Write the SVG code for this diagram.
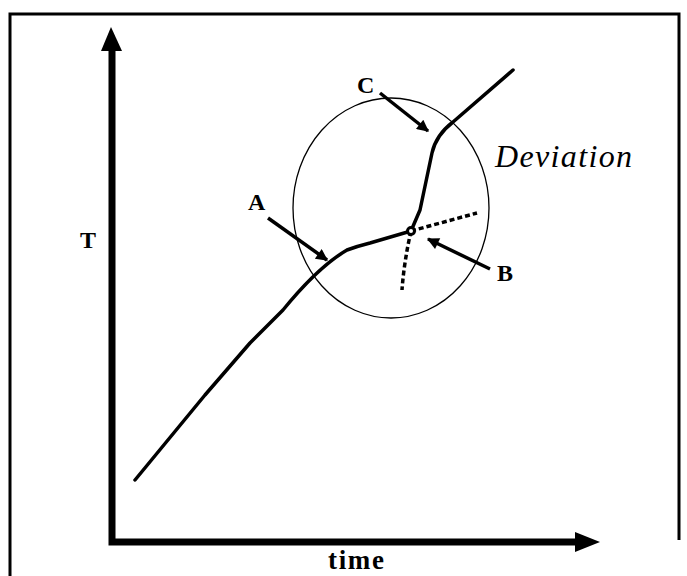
<svg xmlns="http://www.w3.org/2000/svg" width="687" height="576" viewBox="0 0 687 576">
<defs>
<style>
.lbl{font-family:"Liberation Serif","Times New Roman",serif;font-weight:bold;fill:#000}
.axis{stroke:#000;stroke-width:7;fill:none}
.curve{stroke:#000;stroke-width:3.5;fill:none;stroke-linejoin:round;stroke-linecap:round}
.dash{stroke:#000;stroke-width:3.5;fill:none;stroke-dasharray:5 3}
.ptr{stroke:#000;stroke-width:3.5;fill:none}
</style>
<marker id="ah" viewBox="0 0 10 10" refX="9" refY="5" markerWidth="5" markerHeight="3.4" orient="auto" markerUnits="strokeWidth">
<path d="M0,0 L10,5 L0,10 Z" fill="#000"/>
</marker>
</defs>
<rect width="687" height="576" fill="#fff"/>
<path d="M10,576 V14 H679 V540" fill="none" stroke="#000" stroke-width="3"/>
<g id="axes">
<path class="axis" d="M112,50 V542 H576"/>
<path d="M111,27 L101,51 L122,51 Z" fill="#000"/>
<path d="M600,542 L575,532 L575,552 Z" fill="#000"/>
<text class="lbl" x="80" y="248" font-size="24">T</text>
<text class="lbl" x="328" y="569" font-size="27" textLength="56">time</text>
</g>
<g id="deviation">
<ellipse cx="391" cy="208" rx="98" ry="110" fill="none" stroke="#000" stroke-width="1.3"/>
<text x="495" y="167" font-family="'Liberation Serif','Times New Roman',serif" font-style="italic" font-size="32" textLength="137">Deviation</text>
</g>
<g id="curve">
<path class="curve" d="M135,480 L205,395 L250,343 L283,310 Q318,267 347,250 Q358,246 370,243 L411,231 L420,210 L432,153 Q436,135 453,122 L513,70"/>
</g>
<g id="branches">
<path class="dash" d="M411,231 L477,213"/>
<path class="dash" d="M411,231 Q404,262 402,290"/>
<circle cx="411" cy="231" r="3.5" fill="#fff" stroke="#000" stroke-width="3"/>
</g>
<g id="connectors">
<path class="ptr" d="M268,218 L327,260" marker-end="url(#ah)"/>
<path class="ptr" d="M380,93 L428,131" marker-end="url(#ah)"/>
<path class="ptr" d="M490,269 L428,239" marker-end="url(#ah)"/>
</g>
<g id="labels">
<text class="lbl" x="248" y="210" font-size="24">A</text>
<text class="lbl" x="357" y="93" font-size="24">C</text>
<text class="lbl" x="497" y="281" font-size="24">B</text>
</g>
</svg>
